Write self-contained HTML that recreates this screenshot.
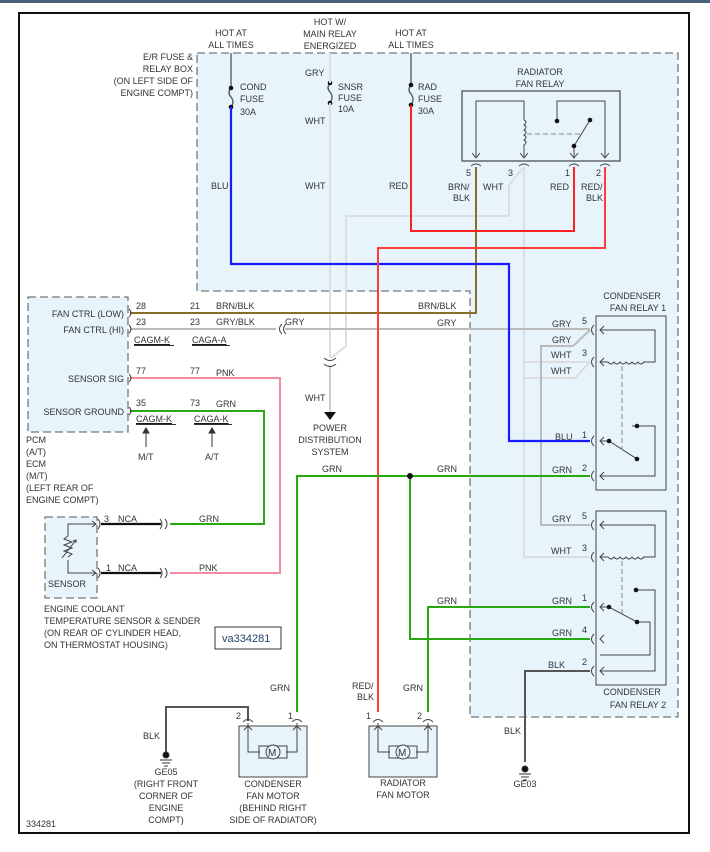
<!DOCTYPE html>
<html><head><meta charset="utf-8"><style>
html,body{margin:0;padding:0;background:#fff;width:710px;height:852px;overflow:hidden}
svg text{font-family:"Liberation Sans",sans-serif;font-size:9px;fill:#333}
</style></head><body>
<svg width="710" height="852" viewBox="0 0 710 852" xmlns="http://www.w3.org/2000/svg">
<rect x="0" y="0" width="710" height="3" fill="#4a6078"/>
<rect x="19" y="13" width="670" height="820" fill="#fff" stroke="#111" stroke-width="2"/>

<!-- fuse box region -->
<path d="M197,53 H678 V717 H470 V291 H197 Z" fill="#e8f4fc" stroke="#777" stroke-width="1.3" stroke-dasharray="8,4"/>
<!-- PCM box -->
<rect x="28" y="297" width="100" height="135" fill="#e8f4fc" stroke="#777" stroke-width="1.3" stroke-dasharray="8,4"/>
<!-- sensor box -->
<rect x="45" y="517" width="52" height="81" fill="#e8f4fc" stroke="#777" stroke-width="1.3" stroke-dasharray="8,4"/>

<!-- labels top -->
<g text-anchor="middle">
<text x="231" y="36">HOT AT</text><text x="231" y="48">ALL TIMES</text>
<text x="330" y="25">HOT W/</text><text x="330" y="37">MAIN RELAY</text><text x="330" y="49">ENERGIZED</text>
<text x="411" y="36">HOT AT</text><text x="411" y="48">ALL TIMES</text>
<text x="540" y="75">RADIATOR</text><text x="540" y="87">FAN RELAY</text>
<text x="632" y="299">CONDENSER</text><text x="638" y="311">FAN RELAY 1</text>
<text x="632" y="695">CONDENSER</text><text x="638" y="708">FAN RELAY 2</text>
</g>
<g text-anchor="end">
<text x="193" y="60">E/R FUSE &amp;</text><text x="193" y="72">RELAY BOX</text><text x="193" y="84">(ON LEFT SIDE OF</text><text x="193" y="96">ENGINE COMPT)</text>
</g>
<!-- fuses -->
<g stroke="#555" stroke-width="1.3" fill="none">
<line x1="231" y1="53" x2="231" y2="88"/>
<line x1="411" y1="53" x2="411" y2="85"/>
<path d="M231,88 q-4,5 0,9 q4,5 0,10"/>
<path d="M330,83 q-4,5 0,9 q4,5 0,11"/>
<path d="M411,85 q-4,5 0,9 q4,5 0,11"/>
</g>
<g fill="#111"><circle cx="231" cy="88" r="2.3"/><circle cx="231" cy="107" r="2.3"/><circle cx="330" cy="83" r="2.3"/><circle cx="330" cy="103" r="2.3"/><circle cx="411" cy="85" r="2.3"/><circle cx="411" cy="105" r="2.3"/></g>
<text x="240" y="90">COND</text><text x="240" y="102">FUSE</text><text x="240" y="115">30A</text>
<text x="338" y="90">SNSR</text><text x="338" y="101">FUSE</text><text x="338" y="112">10A</text>
<text x="418" y="90">RAD</text><text x="418" y="102">FUSE</text><text x="418" y="114">30A</text>
<text x="305" y="76">GRY</text><text x="305" y="124">WHT</text>

<!-- radiator fan relay -->
<rect x="462" y="91" width="158" height="70" fill="#e8f4fc" stroke="#444" stroke-width="1.2"/>
<g stroke="#444" stroke-width="1" fill="none">
<path d="M476,158 V101 H524 V120"/>
<path d="M524,120 q4,2 0,5 q4,2 0,5 q4,2 0,5 q4,2 0,5 q4,2 0,5 V158"/>
<path d="M557,121 V101 H605 V158"/>
<path d="M574,158 V146 L590,120"/>
<line x1="527" y1="134" x2="580" y2="134" stroke-dasharray="5,3" stroke="#888"/>
<path d="M472,153 l4,5 l4,-5 M520,153 l4,5 l4,-5 M570,153 l4,5 l4,-5 M601,153 l4,5 l4,-5"/>
<path d="M471,166 q5,-4 10,0 M519,166 q5,-4 10,0 M569,166 q5,-4 10,0 M600,166 q5,-4 10,0"/>
</g>
<g fill="#111"><circle cx="557" cy="121" r="2.3"/><circle cx="590" cy="120" r="2.3"/><circle cx="574" cy="146" r="2.3"/></g>
<text x="466" y="176">5</text><text x="508" y="176">3</text><text x="565" y="176">1</text><text x="596" y="176">2</text>
<text x="448" y="190">BRN/</text><text x="453" y="201">BLK</text>
<text x="483" y="190">WHT</text>
<text x="550" y="190">RED</text><text x="581" y="190">RED/</text><text x="586" y="201">BLK</text>
<text x="211" y="189">BLU</text><text x="305" y="189">WHT</text><text x="389" y="189">RED</text>

<!-- light gray WHT wires -->
<g stroke="#ddd" stroke-width="2" fill="none">
<path d="M330,53 V83"/>
<path d="M330,103 V358"/>
<path d="M524,167 L509,185 V216 H346 V346 L331,358"/>
<path d="M524,167 V557 H590"/>
<path d="M524,362 H590"/>
<path d="M524,378 H575 L590,362"/>
</g>
<path d="M330,365 V412" stroke="#ccc" stroke-width="2"/>
<path d="M324,358 q6,5 12,0 M324,364 q6,5 12,0" stroke="#444" fill="none"/>
<path d="M324,412 h12 l-6,8 z" fill="#111"/>
<text x="305" y="401">WHT</text>
<g text-anchor="middle"><text x="330" y="431">POWER</text><text x="330" y="443">DISTRIBUTION</text><text x="330" y="455">SYSTEM</text></g>

<!-- GRY wires -->
<g stroke="#bbb" stroke-width="2" fill="none">
<path d="M130,329 H276"/>
<path d="M285,329 H590"/>
<path d="M590,330 L573,346 H541 V525 H590"/>
</g>
<path d="M282,324 q-5,5 0,10 M286,324 q-5,5 0,10" stroke="#444" fill="none"/>

<!-- BRN/BLK -->
<path d="M476,167 V313 H130" stroke="#8b6d2b" stroke-width="2" fill="none"/>
<!-- BLU -->
<path d="M231,107 V264 H509 V441 H590" stroke="#1a1aff" stroke-width="2.2" fill="none"/>
<!-- RED -->
<path d="M411,105 V231 H574 V167" stroke="#ff2020" stroke-width="2" fill="none"/>
<path d="M605,167 V248 H378 V712" stroke="#ff3b3b" stroke-width="2" fill="none"/>
<!-- GRN -->
<g stroke="#2aa812" stroke-width="2" fill="none">
<path d="M590,476 H297 V712"/>
<path d="M410,476 V639 H590"/>
<path d="M590,607 H428 V712"/>
<path d="M130,411 H264 V524 H170"/>
</g>
<circle cx="410" cy="476" r="3" fill="#111"/>
<path d="M130,378 H280 V573 H170" stroke="#f58ba0" stroke-width="2" fill="none"/>
<!-- BLK -->
<path d="M590,671 H525 V762" stroke="#555" stroke-width="2" fill="none"/>
<path d="M248,721 V707 H166 V752" stroke="#555" stroke-width="2" fill="none"/>

<!-- wire labels -->
<text x="136" y="309">28</text><text x="190" y="309">21</text><text x="216" y="309">BRN/BLK</text><text x="418" y="309">BRN/BLK</text>
<text x="136" y="325">23</text><text x="190" y="325">23</text><text x="216" y="325">GRY/BLK</text><text x="285" y="325">GRY</text><text x="437" y="326">GRY</text>
<g text-decoration="underline"><text x="134" y="343">CAGM-K</text><text x="192" y="343">CAGA-A</text><text x="136" y="422">CAGM-K</text><text x="194" y="422">CAGA-K</text></g>
<rect x="134" y="345" width="40" height="1" fill="#333"/><rect x="192" y="345" width="38" height="1" fill="#333"/>
<rect x="136" y="424" width="40" height="1" fill="#333"/><rect x="194" y="424" width="38" height="1" fill="#333"/>
<text x="136" y="374">77</text><text x="190" y="374">77</text><text x="216" y="376">PNK</text>
<text x="136" y="406">35</text><text x="190" y="406">73</text><text x="216" y="407">GRN</text>
<g stroke="#333" fill="#333"><line x1="146" y1="447" x2="146" y2="432"/><path d="M143,433 l3,-5 l3,5z"/><line x1="212" y1="447" x2="212" y2="432"/><path d="M209,433 l3,-5 l3,5z"/></g>
<text x="138" y="460">M/T</text><text x="205" y="460">A/T</text>
<g text-anchor="end"><text x="124" y="317">FAN CTRL (LOW)</text><text x="124" y="333">FAN CTRL (HI)</text><text x="124" y="382">SENSOR SIG</text><text x="124" y="415">SENSOR GROUND</text></g>
<path d="M129,309 q4,4 0,8 M129,325 q4,4 0,8 M129,374 q4,4 0,8 M129,407 q4,4 0,8" stroke="#444" fill="none"/>
<text x="26" y="443">PCM</text><text x="26" y="455">(A/T)</text><text x="26" y="467">ECM</text><text x="26" y="479">(M/T)</text><text x="26" y="491">(LEFT REAR OF</text><text x="26" y="503">ENGINE COMPT)</text>

<!-- sensor -->
<g stroke="#444" fill="none" stroke-width="1">
<path d="M96,524 H68 V536 M68,560 V573 H96"/>
<path d="M68,536 l-4,3 l8,3 l-8,3 l8,3 l-8,3 l8,3 l-4,3"/>
<path d="M62,558 L76,540 M73,541 l3,-1 l0,3"/>
<path d="M92,521 l4,3 l-4,3 M92,570 l4,3 l-4,3"/>
<path d="M98,519 q4,5 0,10 M98,568 q4,5 0,10"/>
<path d="M160,519 q4,5 0,10 M165,519 q4,5 0,10 M160,568 q4,5 0,10 M165,568 q4,5 0,10"/>
</g>
<path d="M101,524 H161 M101,573 H161" stroke="#111" stroke-width="2.2"/>
<text x="104" y="522">3</text><text x="118" y="522">NCA</text><text x="199" y="522">GRN</text>
<text x="106" y="571">1</text><text x="118" y="571">NCA</text><text x="199" y="571">PNK</text>
<text x="48" y="587">SENSOR</text>
<text x="44" y="612">ENGINE COOLANT</text><text x="44" y="624">TEMPERATURE SENSOR &amp; SENDER</text><text x="44" y="636">(ON REAR OF CYLINDER HEAD,</text><text x="44" y="648">ON THERMOSTAT HOUSING)</text>
<rect x="215" y="627" width="66" height="22" fill="#fff" stroke="#333"/>
<text x="222" y="642" style="font-size:11px;fill:#246">va334281</text>

<!-- condenser relays -->
<g stroke="#444" stroke-width="1" fill="none">
<rect x="596" y="316" width="70" height="174" fill="#e8f4fc"/>
<rect x="596" y="511" width="70" height="174" fill="#e8f4fc"/>
<path d="M600,330 H655 V362 H643"/>
<path d="M600,362 H608 q3,4 6,0 q3,4 6,0 q3,4 6,0 q3,4 6,0 q3,4 6,0 q3,4 6,0"/>
<path d="M632,426 H655 V476 H600 M600,441 H609 L637,459"/>
<path d="M600,525 H655 V557 H643"/>
<path d="M600,557 H608 q3,4 6,0 q3,4 6,0 q3,4 6,0 q3,4 6,0 q3,4 6,0 q3,4 6,0"/>
<path d="M636,590 H655 V671 H600 M600,607 H609 L637,622 H650 V655 H600"/>
<line x1="622" y1="366" x2="622" y2="450" stroke="#888" stroke-dasharray="5,3"/>
<line x1="622" y1="561" x2="622" y2="615" stroke="#888" stroke-dasharray="5,3"/>
<path d="M604,326 l-4,4 l4,4 M604,358 l-4,4 l4,4 M604,437 l-4,4 l4,4 M604,472 l-4,4 l4,4 M604,521 l-4,4 l4,4 M604,553 l-4,4 l4,4 M604,603 l-4,4 l4,4 M604,635 l-4,4 l4,4 M604,667 l-4,4 l4,4"/>
<path d="M594,325 q-5,5 0,10 M594,357 q-5,5 0,10 M594,436 q-5,5 0,10 M594,471 q-5,5 0,10 M594,520 q-5,5 0,10 M594,552 q-5,5 0,10 M594,602 q-5,5 0,10 M594,634 q-5,5 0,10 M594,666 q-5,5 0,10"/>
</g>
<g fill="#111"><circle cx="637" cy="426" r="2.3"/><circle cx="609" cy="441" r="2.3"/><circle cx="637" cy="459" r="2.3"/><circle cx="636" cy="590" r="2.3"/><circle cx="609" cy="607" r="2.3"/><circle cx="637" cy="622" r="2.3"/></g>
<text x="552" y="327">GRY</text><text x="582" y="324">5</text>
<text x="552" y="343">GRY</text>
<text x="551" y="358">WHT</text><text x="582" y="356">3</text>
<text x="551" y="374">WHT</text>
<text x="555" y="440">BLU</text><text x="582" y="438">1</text>
<text x="552" y="473">GRN</text><text x="582" y="471">2</text>
<text x="552" y="522">GRY</text><text x="582" y="519">5</text>
<text x="551" y="554">WHT</text><text x="582" y="551">3</text>
<text x="552" y="604">GRN</text><text x="582" y="601">1</text>
<text x="552" y="636">GRN</text><text x="582" y="633">4</text>
<text x="548" y="668">BLK</text><text x="582" y="665">2</text>
<text x="322" y="472">GRN</text><text x="437" y="472">GRN</text>
<text x="437" y="604">GRN</text>

<!-- motors -->
<rect x="239" y="726" width="68" height="51" fill="#e8f4fc" stroke="#444"/>
<rect x="369" y="726" width="68" height="51" fill="#e8f4fc" stroke="#444"/>
<g stroke="#444" fill="none">
<path d="M248,723 V752 H260 M286,752 H297 V723"/>
<path d="M378,723 V752 H390 M416,752 H428 V723"/>
<rect x="259" y="746" width="28" height="12"/><rect x="389" y="746" width="28" height="12"/>
<circle cx="273" cy="752" r="7" fill="#e8f4fc"/><circle cx="403" cy="752" r="7" fill="#e8f4fc"/>
<path d="M244,730 l4,-4 l4,4 M293,730 l4,-4 l4,4 M374,730 l4,-4 l4,4 M424,730 l4,-4 l4,4"/>
<path d="M243,722 q5,-5 10,0 M292,722 q5,-5 10,0 M373,722 q5,-5 10,0 M423,722 q5,-5 10,0"/>
</g>
<text x="268" y="756" style="font-size:10px">M</text><text x="398" y="756" style="font-size:10px">M</text>
<text x="236" y="719">2</text><text x="288" y="719">1</text><text x="366" y="719">1</text><text x="417" y="719">2</text>
<text x="270" y="691">GRN</text><text x="403" y="691">GRN</text>
<text x="352" y="689">RED/</text><text x="357" y="700">BLK</text>
<text x="143" y="739">BLK</text><text x="504" y="734">BLK</text>
<g text-anchor="middle">
<text x="273" y="787">CONDENSER</text><text x="273" y="799">FAN MOTOR</text><text x="273" y="811">(BEHIND RIGHT</text><text x="273" y="823">SIDE OF RADIATOR)</text>
<text x="403" y="786">RADIATOR</text><text x="403" y="798">FAN MOTOR</text>
<text x="166" y="775">GE05</text><text x="166" y="787">(RIGHT FRONT</text><text x="166" y="799">CORNER OF</text><text x="166" y="811">ENGINE</text><text x="166" y="823">COMPT)</text>
<text x="525" y="787">GE03</text>
</g>
<g stroke="#333" fill="#111">
<circle cx="166" cy="755" r="3"/><line x1="160" y1="760" x2="172" y2="760"/><line x1="162" y1="763" x2="170" y2="763"/><line x1="164" y1="766" x2="168" y2="766"/>
<circle cx="525" cy="769" r="3"/><line x1="519" y1="774" x2="531" y2="774"/><line x1="521" y1="777" x2="529" y2="777"/><line x1="523" y1="780" x2="527" y2="780"/>
</g>
<text x="26" y="827">334281</text>
</svg>
</body></html>
